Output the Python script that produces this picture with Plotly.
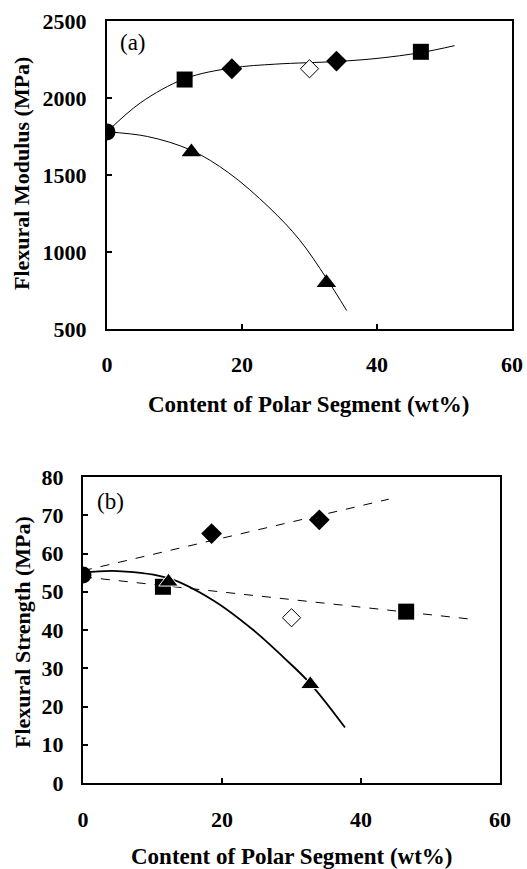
import plotly.graph_objects as go

# ---- panel (a): flexural modulus (MPa) vs polar segment content (wt%)
a_circle_x = [0]
a_circle_y = [1780]
a_square_x = [11.5, 46.5]
a_square_y = [2120, 2300]
a_diamond_x = [18.5, 34]
a_diamond_y = [2190, 2240]
a_open_x = [30]
a_open_y = [2190]
a_tri_x = [12.5, 32.5]
a_tri_y = [1650, 800]
# trend curves
a_up_x = [0, 5, 11.5, 18.5, 25, 34, 40, 46.5, 51.5]
a_up_y = [1780, 1970, 2125, 2195, 2220, 2237, 2257, 2295, 2340]
a_low_x = [0, 6, 12.5, 18, 24, 28.5, 32.5, 35.5]
a_low_y = [1780, 1750, 1660, 1515, 1290, 1080, 830, 620]

# ---- panel (b): flexural strength (MPa)
b_circle_x = [0]
b_circle_y = [54.4]
b_square_x = [11.5, 46.5]
b_square_y = [51.3, 44.8]
b_diamond_x = [18.5, 34]
b_diamond_y = [65.2, 68.8]
b_open_x = [30]
b_open_y = [43.2]
b_tri_x = [12.3, 32.7]
b_tri_y = [52.6, 25.8]
b_dash_up_x = [0, 44]
b_dash_up_y = [55.5, 74.2]
b_dash_low_x = [0, 56.5]
b_dash_low_y = [53.9, 42.7]
b_curve_x = [0, 5, 12.4, 18.7, 24.5, 29, 32.7, 37.7]
b_curve_y = [55, 55.4, 53.5, 47.8, 40, 32.6, 26, 14.5]

FONT = "Liberation Serif"
W, H = 527, 869


def px_x(v):
    return v / W


def px_y(v):
    return 1 - v / H


fig = go.Figure()


def add_panel(xa, ya, curves, pts):
    for cx, cy, dash, width in curves:
        fig.add_trace(go.Scatter(x=cx, y=cy, mode="lines", xaxis=xa, yaxis=ya,
                                 line=dict(color="black", width=width, dash=dash, shape="spline"),
                                 showlegend=False, hoverinfo="skip"))
    for px_, py_, sym, size, fill, lc, lw in pts:
        fig.add_trace(go.Scatter(x=px_, y=py_, mode="markers", xaxis=xa, yaxis=ya,
                                 marker=dict(symbol=sym, size=size, color=fill,
                                             line=dict(color=lc, width=lw)),
                                 showlegend=False))


add_panel("x", "y",
          [(a_up_x, a_up_y, "solid", 1), (a_low_x, a_low_y, "solid", 1)],
          [(a_circle_x, a_circle_y, "circle", 17, "black", "black", 0),
           (a_square_x, a_square_y, "square", 16, "black", "black", 0),
           (a_diamond_x, a_diamond_y, "diamond", 16, "black", "black", 0),
           (a_open_x, a_open_y, "diamond", 14, "white", "black", 1),
           (a_tri_x, a_tri_y, "triangle-up", 17, "black", "black", 0)])

add_panel("x2", "y2",
          [(b_dash_up_x, b_dash_up_y, "dash", 1), (b_dash_low_x, b_dash_low_y, "dash", 1),
           (b_curve_x, b_curve_y, "solid", 1.8)],
          [(b_circle_x, b_circle_y, "circle", 17, "black", "black", 0),
           (b_square_x, b_square_y, "square", 16, "black", "black", 0),
           (b_diamond_x, b_diamond_y, "diamond", 16, "black", "black", 0),
           (b_open_x, b_open_y, "diamond", 14, "white", "black", 1),
           (b_tri_x, b_tri_y, "triangle-up", 17, "black", "white", 1)])

tickfont = dict(family=FONT, size=22, color="black", weight="bold")
axis_common = dict(showline=True, linecolor="black", linewidth=2, mirror=True,
                   ticks="inside", ticklen=5, tickwidth=1.5, tickcolor="black",
                   showgrid=False, zeroline=False, tickfont=tickfont, automargin=False)

fig.update_layout(
    width=W, height=H,
    margin=dict(l=0, r=0, t=0, b=0),
    plot_bgcolor="white", paper_bgcolor="white",
    xaxis=dict(domain=[px_x(107), px_x(512)], range=[0, 60], dtick=20, anchor="y",
               ticklabelstandoff=15, **axis_common),
    yaxis=dict(domain=[px_y(329), px_y(21)], range=[500, 2500], dtick=500, anchor="x",
               ticklabelstandoff=14, **axis_common),
    xaxis2=dict(domain=[px_x(83), px_x(500)], range=[0, 60], dtick=20, anchor="y2",
                ticklabelstandoff=16, **axis_common),
    yaxis2=dict(domain=[px_y(783), px_y(477)], range=[0, 80], dtick=10, anchor="x2",
                ticklabelstandoff=13, **axis_common),
)

xtitle_font = dict(family=FONT, size=23, color="black", weight="bold")
ytitle_font = dict(family=FONT, size=22, color="black", weight="bold")
for text, x, y, ang, f in [
    ("Content of Polar Segment (wt%)", 309, 405, 0, xtitle_font),
    ("Flexural Modulus (MPa)", 22, 174, -90, ytitle_font),
    ("Content of Polar Segment (wt%)", 292, 856, 0, xtitle_font),
    ("Flexural Strength (MPa)", 22, 632, -90, ytitle_font),
]:
    fig.add_annotation(text=text, xref="paper", yref="paper", x=px_x(x), y=px_y(y),
                       xanchor="center", yanchor="middle", showarrow=False,
                       textangle=ang, font=f)

panel_font = dict(family=FONT, size=23, color="black")
fig.add_annotation(text="(a)", xref="paper", yref="paper", x=px_x(133), y=px_y(42),
                   xanchor="center", yanchor="middle", showarrow=False, font=panel_font)
fig.add_annotation(text="(b)", xref="paper", yref="paper", x=px_x(110), y=px_y(501),
                   xanchor="center", yanchor="middle", showarrow=False, font=panel_font)

# page body margin would push the 527x869 figure off the window
fig.write_html("out.html", config={"displayModeBar": False},
               post_script="document.body.style.margin='0';document.body.style.overflow='hidden';")
